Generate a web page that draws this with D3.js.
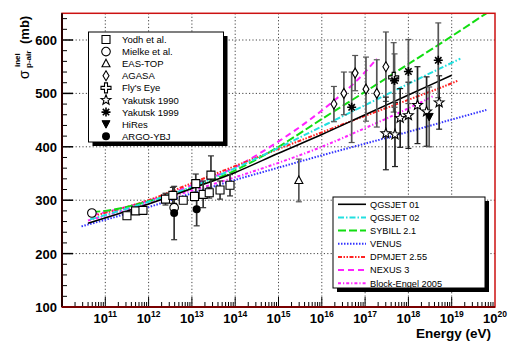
<!DOCTYPE html>
<html>
<head>
<meta charset="utf-8">
<script src="https://cdn.jsdelivr.net/npm/d3@7"></script>
<style>
body { margin:0; background:#fff; }
text { font-family:"Liberation Sans", Arial, sans-serif; }
</style>
</head>
<body>
<svg id="chart" width="510" height="341"></svg>
<script>
// ---- measured points (log10 of energy in eV, cross section in mb) ----
var yodhE = [11.50, 11.70, 11.87, 12.39, 12.56, 12.80, 13.06, 13.09, 13.26, 13.40, 13.44, 13.65, 13.88];
var yodhS = [271, 280, 281, 302, 309, 300, 307, 331, 311, 314, 347, 319, 328];
var yodhErr = [6, 5, 6, 11, 15, 6, 8, 18, 25, 10, 36, 17, 20];

var mielkeE = [10.69, 12.59];
var mielkeS = [276, 286];
var mielkeErr = [4, 8];

var eastopE = [15.47];
var eastopS = [337];
var eastopErr = [40];

var agasaE = [16.28, 16.51, 16.77, 17.02, 17.27, 17.48];
var agasaS = [480, 500, 538, 508, 500, 550];
var agasaErr = [33, 40, 33, 60, 63, 65];

var flyE = [17.66];
var flyS = [530];
var flyErr = [65];

var yak90E = [17.48, 17.69, 17.81, 18.00, 18.21, 18.42, 18.71];
var yak90S = [425, 423, 454, 459, 478, 466, 483];
var yak90Err = [68, 60, 55, 62, 72, 65, 50];

var yak99E = [16.69, 17.68, 18.00, 18.69];
var yak99S = [474, 524, 541, 562];
var yak99Err = [66, 50, 60, 70];

var hiresE = [18.48];
var hiresS = [456];
var hiresErr = [56];

var argoE = [12.59, 13.11];
var argoS = [276, 283];
var argoErr = [50, 31];

// ---- model curves ----
var qgs01E = [10.6, 12, 13, 14, 15, 16, 17, 18, 19];
var qgs01S = [257, 293, 322, 352, 388, 423, 460, 497, 534];
var qgs02E = [10.65, 12, 13, 14, 15, 16, 17, 18, 19.2];
var qgs02S = [264, 297, 325, 360, 398, 438, 478, 518, 565];
var sibE = [10.7, 11, 12, 13, 14, 15, 16, 17, 18, 19, 19.8];
var sibS = [278, 280, 298, 323, 356, 400, 452, 503, 555, 607, 650];
var venusE = [10.45, 12, 13, 14, 15, 16, 17, 18, 19, 19.8];
var venusS = [251, 287, 313, 338, 361, 384, 406, 428, 451, 469];
var dpmE = [10.7, 12, 13, 14, 15, 16, 17, 18, 19, 19.15];
var dpmS = [270, 300, 332, 364, 396, 427, 458, 488, 519, 524];
var nexusE = [10.7, 12, 13, 14, 15, 16, 17, 17.27];
var nexusS = [272, 299, 328, 362, 410, 468, 540, 565];
var blockE = [10.6, 12, 13, 14, 15, 16, 17, 18, 18.6];
var blockS = [262, 294, 318, 343, 370, 400, 435, 472, 496];

var xTicks = [11, 12, 13, 14, 15, 16, 17, 18, 19, 20];
var yTicks = [100, 200, 300, 400, 500, 600];

var svg = d3.select('#chart');
var L = 62, R = 495, T = 13.3, B = 307;

var x = d3.scaleLog().domain([1e10, 1e20]).range([L, R]);
var y = d3.scaleLinear().domain([100, 650]).range([B, T]);
function xe(le){ return x(Math.pow(10, le)); }

svg.append('defs').append('clipPath').attr('id', 'plotclip')
	.append('rect').attr('x', L).attr('y', T).attr('width', R - L).attr('height', B - T);

// grid
var grid = svg.append('g').attr('stroke', '#444').attr('stroke-width', 1).attr('stroke-dasharray', '1.2,2.2');
xTicks.slice(0, -1).forEach(function(d){
	grid.append('line').attr('x1', xe(d)).attr('x2', xe(d)).attr('y1', T).attr('y2', B);
});
yTicks.slice(1).forEach(function(d){
	grid.append('line').attr('x1', L).attr('x2', R).attr('y1', y(d)).attr('y2', y(d));
});

// ticks
var ticks = svg.append('g').attr('stroke', '#000').attr('stroke-width', 1);
for (var v = 100; v <= 650; v += 20) {
	var major = v % 100 == 0;
	ticks.append('line').attr('x1', L).attr('x2', L + (major ? 11 : 5))
		.attr('y1', y(v)).attr('y2', y(v)).attr('stroke-width', major ? 1.5 : 1);
}
for (var dec = 10; dec < 20; dec++) {
	for (var m = 1; m <= 9; m++) {
		var xv = x(m * Math.pow(10, dec));
		if (m == 1 && dec == 10) continue;
		ticks.append('line').attr('x1', xv).attr('x2', xv)
			.attr('y1', B).attr('y2', B - (m == 1 ? 10 : 5));
	}
}

// model lines
var line = d3.line().x(function(d){ return xe(d[0]); }).y(function(d){ return y(d[1]); })
	.curve(d3.curveMonotoneX);
var models = [
	{n:'QGSJET 01', e:qgs01E, s:qgs01S, c:'#000000', w:1.6, dash:null},
	{n:'QGSJET 02', e:qgs02E, s:qgs02S, c:'#22e0e0', w:2, dash:'6,2,1.5,2'},
	{n:'SYBILL 2.1', e:sibE, s:sibS, c:'#11dd11', w:2, dash:'8,3'},
	{n:'VENUS', e:venusE, s:venusS, c:'#3333ff', w:2, dash:'1.5,1.5'},
	{n:'DPMJET 2.55', e:dpmE, s:dpmS, c:'#ff2222', w:2, dash:'4,1.5,1.5,1.5,1.5,1.5'},
	{n:'NEXUS 3', e:nexusE, s:nexusS, c:'#ff22ff', w:2, dash:'6,4'},
	{n:'Block-Engel 2005', e:blockE, s:blockS, c:'#ff22ff', w:2, dash:'3,2,1.2,2'}
];
var gm = svg.append('g').attr('clip-path', 'url(#plotclip)');
models.slice().reverse().forEach(function(md){
	gm.append('path').datum(d3.zip(md.e, md.s)).attr('d', line)
		.attr('fill', 'none').attr('stroke', md.c).attr('stroke-width', md.w)
		.attr('stroke-dasharray', md.dash);
});

// marker shapes
function starPath(ro, ri){
	var p = [];
	for (var i = 0; i < 10; i++) {
		var a = -Math.PI / 2 + i * Math.PI / 5, r = i % 2 ? ri : ro;
		p.push([r * Math.cos(a), r * Math.sin(a)]);
	}
	return 'M' + p.join('L') + 'Z';
}
function drawMarker(g, type, cx, cy){
	var s = g.append('g').attr('transform', 'translate(' + cx + ',' + cy + ')');
	var open = {fill:'#fff', stroke:'#000', 'stroke-width':1.1};
	function ap(d, st){ var e = s.append('path').attr('d', d); for (var k in st) e.attr(k, st[k]); return e; }
	if (type == 'square') ap('M-4,-4H4V4H-4Z', open);
	else if (type == 'circle') s.append('circle').attr('r', 4.3).attr('fill', '#fff').attr('stroke', '#000').attr('stroke-width', 1.1);
	else if (type == 'triangle') ap('M0,-4.5L4,3L-4,3Z', open);
	else if (type == 'diamond') ap('M0,-5L3,0L0,5L-3,0Z', open);
	else if (type == 'cross') ap('M-1.5,-5H1.5V-1.5H5V1.5H1.5V5H-1.5V1.5H-5V-1.5H-1.5Z', open);
	else if (type == 'star') ap(starPath(5.2, 2.2), open);
	else if (type == 'asterisk') {
		ap('M-4.5,0H4.5M0,-4.5V4.5M-3.2,-3.2L3.2,3.2M-3.2,3.2L3.2,-3.2', {stroke:'#000', 'stroke-width':1.6, fill:'none'});
		s.append('circle').attr('r', 1.8).attr('fill', '#000');
	}
	else if (type == 'tridown') ap('M-4,-3.5L4,-3.5L0,4Z', {fill:'#000', stroke:'#000', 'stroke-width':1});
	else if (type == 'dot') s.append('circle').attr('r', 4).attr('fill', '#000');
}

var sets = [
	{n:'Yodh et al.', e:yodhE, s:yodhS, err:yodhErr, m:'square', ec:'#333'},
	{n:'Mielke et al.', e:mielkeE, s:mielkeS, err:mielkeErr, m:'circle', ec:'#333'},
	{n:'EAS-TOP', e:eastopE, s:eastopS, err:eastopErr, m:'triangle', ec:'#555'},
	{n:'AGASA', e:agasaE, s:agasaS, err:agasaErr, m:'diamond', ec:'#555'},
	{n:"Fly's Eye", e:flyE, s:flyS, err:flyErr, m:'cross', ec:'#555'},
	{n:'Yakutsk 1990', e:yak90E, s:yak90S, err:yak90Err, m:'star', ec:'#222'},
	{n:'Yakutsk 1999', e:yak99E, s:yak99S, err:yak99Err, m:'asterisk', ec:'#555'},
	{n:'HiRes', e:hiresE, s:hiresS, err:hiresErr, m:'tridown', ec:'#555'},
	{n:'ARGO-YBJ', e:argoE, s:argoS, err:argoErr, m:'dot', ec:'#333'}
];

var gerr = svg.append('g');
var gpts = svg.append('g');
sets.forEach(function(st){
	st.e.forEach(function(le, i){
		var cx = xe(le), lo = y(st.s[i] - st.err[i]), hi = y(st.s[i] + st.err[i]);
		gerr.append('line').attr('x1', cx).attr('x2', cx).attr('y1', lo).attr('y2', hi)
			.attr('stroke', st.ec).attr('stroke-width', 1.7);
		[lo, hi].forEach(function(yy){
			gerr.append('line').attr('x1', cx - 3).attr('x2', cx + 3).attr('y1', yy).attr('y2', yy)
				.attr('stroke', st.ec).attr('stroke-width', 1.2);
		});
	});
});
sets.forEach(function(st){
	st.e.forEach(function(le, i){ drawMarker(gpts, st.m, xe(le), y(st.s[i])); });
});

// frame
svg.append('rect').attr('x', L).attr('y', T).attr('width', R - L).attr('height', B - T)
	.attr('fill', 'none').attr('stroke', '#cc1111').attr('stroke-width', 1.5);
svg.append('line').attr('x1', L).attr('x2', L).attr('y1', T).attr('y2', B).attr('stroke', '#2a0000').attr('stroke-width', 2);
svg.append('line').attr('x1', L).attr('x2', R).attr('y1', B).attr('y2', B).attr('stroke', '#7a0000').attr('stroke-width', 2);

// tick labels
yTicks.forEach(function(d){
	svg.append('text').attr('x', 57).attr('y', y(d) + 5).attr('text-anchor', 'end')
		.attr('font-size', 13).attr('font-weight', 'bold').text(d);
});
xTicks.forEach(function(d){
	var t = svg.append('text').attr('x', xe(d)).attr('y', 322.5).attr('text-anchor', 'middle')
		.attr('font-weight', 'bold').attr('font-size', 13);
	t.append('tspan').text('10');
	t.append('tspan').attr('font-size', 8.5).attr('dy', -5.5).text(d);
});

// axis titles
svg.append('text').attr('x', 491).attr('y', 337.5).attr('text-anchor', 'end')
	.attr('font-size', 13.5).attr('font-weight', 'bold').text('Energy (eV)');

var yl = svg.append('g').attr('transform', 'translate(29,79) rotate(-90)');
yl.append('text').attr('x', 0).attr('y', 0).attr('font-size', 14).text('σ');
yl.append('text').attr('x', 12).attr('y', -9).attr('font-size', 8).attr('font-weight', 'bold').text('inel');
yl.append('text').attr('x', 11).attr('y', 2).attr('font-size', 8).attr('font-weight', 'bold').text('p-air');
yl.append('text').attr('x', 35).attr('y', 0).attr('font-size', 13).attr('font-weight', 'bold').text('(mb)');

// legend with data sets
function legendBox(x0, y0, w, h){
	svg.append('rect').attr('x', x0 + 4).attr('y', y0 + 4).attr('width', w).attr('height', h).attr('fill', '#000');
	svg.append('rect').attr('x', x0).attr('y', y0).attr('width', w).attr('height', h)
		.attr('fill', '#fff').attr('stroke', '#000').attr('stroke-width', 1);
}
legendBox(88.5, 32, 135, 110);
sets.forEach(function(st, i){
	var cy = 39.5 + i * 12.1;
	drawMarker(svg, st.m, 106, cy);
	svg.append('text').attr('x', 122).attr('y', cy + 3.5).attr('font-size', 9.5).text(st.n);
});

// legend with models
legendBox(333, 197, 152, 91);
models.forEach(function(md, i){
	var cy = 204.3 + i * 13.15;
	svg.append('line').attr('x1', 338).attr('x2', 366).attr('y1', cy).attr('y2', cy)
		.attr('stroke', md.c).attr('stroke-width', md.w).attr('stroke-dasharray', md.dash);
	svg.append('text').attr('x', 370).attr('y', cy + 3.3).attr('font-size', 9.2).text(md.n);
});
</script>
</body>
</html>
